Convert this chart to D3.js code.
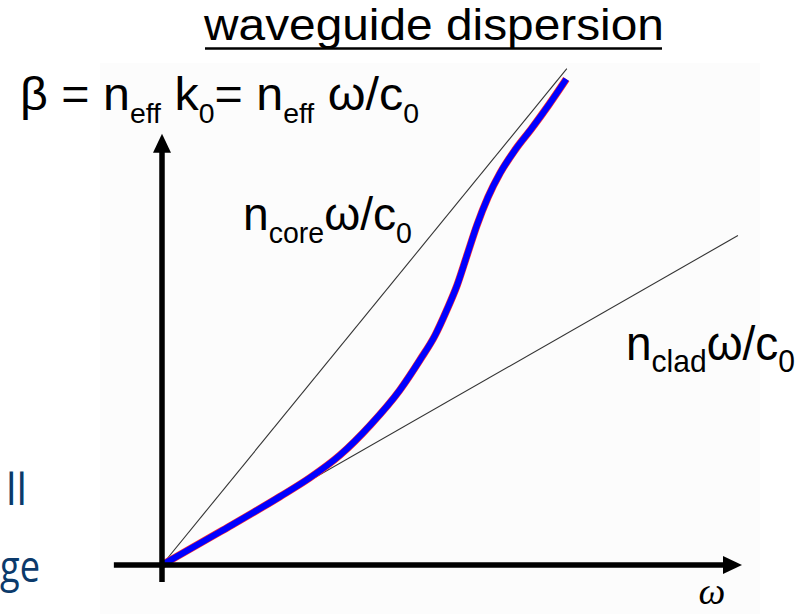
<!DOCTYPE html>
<html>
<head>
<meta charset="utf-8">
<script src="https://cdn.jsdelivr.net/npm/d3@7/dist/d3.min.js"></script>
<style>
  html, body { margin: 0; padding: 0; background: #ffffff; }
  svg { display: block; }
</style>
</head>
<body>
<svg id="chart" width="805" height="614"></svg>
<script>
// Schematic waveguide dispersion: beta(omega) of a guided mode lies between
// the cladding light line and the core light line.
const nCore = 1.5;          // slope of the core light line
const nClad = 0.7;          // slope of the cladding light line
const coreLineEnd = [0, 6.98];   // omega span of the core light line
const cladLineEnd = [0, 9.93];   // omega span of the cladding light line

// guided-mode dispersion curve
const modeOmega = [0, 1.0, 2.03, 2.55, 3.07, 3.59, 4.10, 4.45, 4.71, 4.91, 5.09, 5.26, 5.43, 5.62, 5.83, 6.09, 6.38, 6.67, 6.97];
const modeBeta  = [0, 0.70, 1.44, 1.84, 2.32, 2.95, 3.69, 4.33, 4.85, 5.38, 5.91, 6.54, 7.17, 7.76, 8.27, 8.76, 9.22, 9.71, 10.25];

const omegaAxisSpan = [-0.83, 10];
const betaAxisSpan = [-0.36, 9.1];

const W = 805, H = 614;
const svg = d3.select("#chart");

const x = d3.scaleLinear().domain([0, 10]).range([162, 742]);
const y = d3.scaleLinear().domain([0, 10]).range([565, 91]);

// pasted figure panel
svg.append("rect").attr("x", 100).attr("y", 63).attr("width", 660).attr("height", H - 63)
  .attr("fill", "#fcfcfc");

// light lines
const line = d3.line().x(d => x(d[0])).y(d => y(d[1]));
svg.append("path")
  .datum(coreLineEnd.map(w => [w, nCore * w]))
  .attr("d", line).attr("fill", "none").attr("stroke", "#333").attr("stroke-width", 1.1);
svg.append("path")
  .datum(cladLineEnd.map(w => [w, nClad * w]))
  .attr("d", line).attr("fill", "none").attr("stroke", "#333").attr("stroke-width", 1.1);

// mode curve (red edge under blue)
const modePts = modeOmega.map((w, i) => [w, modeBeta[i]]);
const curve = d3.line().x(d => x(d[0])).y(d => y(d[1])).curve(d3.curveMonotoneX);
svg.append("path").datum(modePts).attr("d", curve)
  .attr("fill", "none").attr("stroke", "#ff3030").attr("stroke-width", 7.5);
svg.append("path").datum(modePts).attr("d", curve)
  .attr("fill", "none").attr("stroke", "#0000ff").attr("stroke-width", 6.2);

// axes with arrowheads
const axW = 5.5, head = 19, half = 9;
svg.append("line")
  .attr("x1", x(omegaAxisSpan[0])).attr("x2", x(omegaAxisSpan[1]) - head + 1)
  .attr("y1", y(0)).attr("y2", y(0))
  .attr("stroke", "#000").attr("stroke-width", axW);
svg.append("path")
  .attr("d", `M${x(omegaAxisSpan[1])},${y(0)} L${x(omegaAxisSpan[1]) - head},${y(0) - half} L${x(omegaAxisSpan[1]) - head},${y(0) + half} Z`)
  .attr("fill", "#000");
svg.append("line")
  .attr("x1", x(0)).attr("x2", x(0))
  .attr("y1", y(betaAxisSpan[0])).attr("y2", y(betaAxisSpan[1]) + head - 1)
  .attr("stroke", "#000").attr("stroke-width", axW);
svg.append("path")
  .attr("d", `M${x(0)},${y(betaAxisSpan[1])} L${x(0) - half},${y(betaAxisSpan[1]) + head} L${x(0) + half},${y(betaAxisSpan[1]) + head} Z`)
  .attr("fill", "#000");

// text with subscripts, stretched horizontally to span [x0, x1]
function label(parts, x0, x1, baseline, F, subF, subDy, family, fill) {
  const g = svg.append("g");
  const t = g.append("text").attr("x", 0).attr("y", 0)
    .attr("font-family", family || "'Liberation Sans', Arial, sans-serif")
    .attr("font-size", F).attr("fill", fill || "#000");
  let shifted = false;
  parts.forEach(p => {
    const sub = Array.isArray(p);
    const s = sub ? p[0] : p;
    let dy = 0;
    if (sub && !shifted) { dy = subDy; shifted = true; }
    else if (!sub && shifted) { dy = -subDy; shifted = false; }
    t.append("tspan").attr("dy", dy).attr("font-size", sub ? subF : F)
      .style("white-space", "pre").text(s);
  });
  const bb = t.node().getBBox();
  const sx = (x1 - x0) / bb.width;
  g.attr("transform", `translate(${x0 - bb.x * sx},${baseline}) scale(${sx},1)`);
  return g;
}

// title
label(["waveguide dispersion"], 203, 664, 40, 44, 44, 0);
svg.append("line").attr("x1", 205).attr("x2", 662).attr("y1", 48.5).attr("y2", 48.5)
  .attr("stroke", "#000").attr("stroke-width", 2.5);

// beta definition
label(["β = n", ["eff"], " k", ["0"], "= n", ["eff"], " ω/c", ["0"]], 20, 419, 110, 46, 27, 13);

// light-line labels
label(["n", ["core"], "ω/c", ["0"]], 243, 412, 230, 47, 29, 13);
label(["n", ["clad"], "ω/c", ["0"]], 626, 795, 360, 49, 32, 12);

// omega axis label
svg.append("text").attr("x", 712).attr("y", 604).attr("text-anchor", "middle")
  .attr("font-family", "'Liberation Serif', 'DejaVu Serif', serif")
  .attr("font-style", "italic").attr("font-size", 38).attr("fill", "#000")
  .text("ω");

// slide text fragments at the left edge
const slideFont = "'Open Sans', 'Noto Sans', sans-serif";
label(["ll"], 6, 27, 505, 44, 44, 0, slideFont, "#0b3a6b");
label(["ge"], 0, 40, 582, 44, 44, 0, slideFont, "#0b3a6b");
</script>
</body>
</html>
